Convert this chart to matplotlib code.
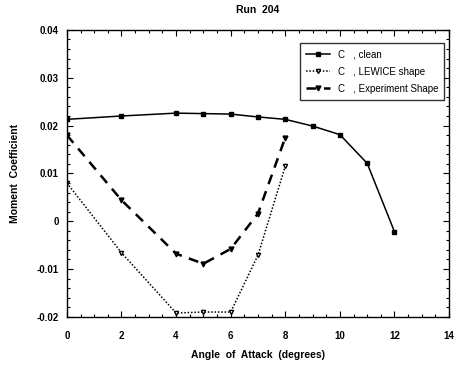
import numpy as np
import matplotlib
matplotlib.use("Agg")
import matplotlib.pyplot as plt
from matplotlib.ticker import MultipleLocator

# -------------------------------
# Data
# -------------------------------
alpha_clean = [0, 2, 4, 5, 6, 7, 8, 9, 10, 11, 12]
cm_clean = [0.0213, 0.0220, 0.0226, 0.0225, 0.0224, 0.0218, 0.0213, 0.0199, 0.0181, 0.0121, -0.0022]

alpha_lewice = [0, 2, 4, 5, 6, 7, 8]
cm_lewice = [0.0080, -0.0066, -0.0192, -0.0190, -0.0190, -0.0071, 0.0115]

alpha_exp = [0, 2, 4, 5, 6, 7, 8]
cm_exp = [0.0180, 0.0044, -0.0068, -0.0089, -0.0058, 0.0016, 0.0175]

labels = ["C   , clean", "C   , LEWICE shape", "C   , Experiment Shape"]

plt.rcParams["font.family"] = ["Liberation Sans", "DejaVu Sans"]

fig = plt.figure(figsize=(4.55, 3.65), dpi=100)
ax = fig.add_axes([0.147, 0.132, 0.840, 0.786])

ax.plot(alpha_clean, cm_clean, color="black", lw=1.1, marker="s", ms=3,
        label=labels[0])
ax.plot(alpha_lewice, cm_lewice, color="black", lw=1.1, ls=(0, (1, 1.2)),
        marker="v", ms=3, mfc="white", label=labels[1])
ax.plot(alpha_exp, cm_exp, color="black", lw=1.8, ls=(0, (4, 3)),
        marker="v", ms=3.5, label=labels[2])

ax.set_xlim(0, 14)
ax.set_ylim(-0.02, 0.04)
ax.xaxis.set_major_locator(MultipleLocator(2))
ax.xaxis.set_minor_locator(MultipleLocator(0.5))
ax.yaxis.set_minor_locator(MultipleLocator(0.002))
ax.set_yticks([-0.02, -0.01, 0, 0.01, 0.02, 0.03, 0.04])
ax.set_yticklabels(["-0.02", "-0.01", "0", "0.01", "0.02", "0.03", "0.04"])

ax.tick_params(which="both", direction="in", top=True, right=True,
               labelsize=7, width=0.8)
ax.tick_params(which="major", length=4)
ax.tick_params(which="minor", length=2)
ax.tick_params(axis="x", pad=10)
ax.tick_params(axis="y", pad=6)
for lbl in ax.get_xticklabels() + ax.get_yticklabels():
    lbl.set_fontweight("bold")
for s in ax.spines.values():
    s.set_linewidth(1.0)

ax.set_title("Run  204", fontsize=7.5, fontweight="bold", pad=12)
ax.set_xlabel("Angle  of  Attack  (degrees)", fontsize=7.5, fontweight="bold",
              labelpad=7)
ax.set_ylabel("Moment  Coefficient", fontsize=7.5, fontweight="bold",
              labelpad=12)

leg = ax.legend(loc="upper right", bbox_to_anchor=(1.0, 0.97), fontsize=7,
                frameon=True, fancybox=False, edgecolor="black",
                handlelength=2.5, borderpad=0.6, labelspacing=0.75)
leg.get_frame().set_linewidth(1.0)

fig.savefig("out.png", dpi=100)
